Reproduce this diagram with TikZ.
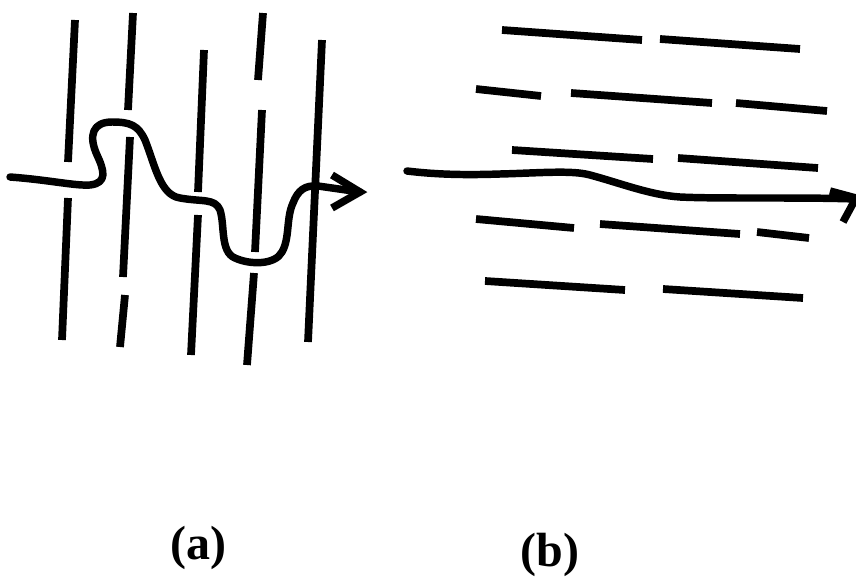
\documentclass[tikz,border=0pt]{standalone}
\usepackage{fontspec}
\setmainfont{Liberation Serif}

\tikzset{every picture/.style={line width=0.75pt}}

\begin{document}
\begin{tikzpicture}[x=0.75pt,y=0.75pt,yscale=-1,xscale=1,
  bar/.style={line width=5.8pt},
  path/.style={line width=5.6pt,line cap=round,line join=round},
  caption/.style={inner sep=0.75pt,font=\fontsize{36}{40}\selectfont\bfseries}]
\useasboundingbox (0,0) rectangle (856,582);

%Straight Lines (a) wall 1
\draw [bar] (75,20) -- (68,162) ;
\draw [bar] (68,198) -- (62,340) ;
%Straight Lines (a) wall 2
\draw [bar] (133,13) -- (128,110) ;
\draw [bar] (130,137) -- (123,277) ;
\draw [bar] (125,295) -- (120,347) ;
%Straight Lines (a) wall 3
\draw [bar] (204,50) -- (198,192) ;
\draw [bar] (198,215) -- (191,355) ;
%Straight Lines (a) wall 4
\draw [bar] (263,13) -- (258,80) ;
\draw [bar] (262,110) -- (255,252) ;
\draw [bar] (254,273) -- (247,365) ;
%Straight Lines (a) wall 5
\draw [bar] (322,40) -- (308,342) ;

%Curve (a) winding path
\draw [path] (10,177) .. controls (50,180) and (75,186) .. (90,185)
  .. controls (108,183) and (104,170) .. (97,155)
  .. controls (88,135) and (93,122) .. (112,122)
  .. controls (130,122) and (138,125) .. (145,140)
  .. controls (155,165) and (160,195) .. (180,198)
  .. controls (202,202) and (215,198) .. (220,210)
  .. controls (225,225) and (220,252) .. (235,258)
  .. controls (250,265) and (275,265) .. (282,252)
  .. controls (290,238) and (286,218) .. (293,203)
  .. controls (298,190) and (305,185) .. (318,186)
  -- (360,192) ;
\draw [path,line cap=butt,line join=miter] (332,175) -- (360,192) -- (332,208) ;

%Straight Lines (b) row 1
\draw [bar] (502,30) -- (642,40) ;
\draw [bar] (660,39) -- (800,49) ;
%Straight Lines (b) row 2
\draw [bar] (476,89) -- (541,96) ;
\draw [bar] (571,93) -- (712,103) ;
\draw [bar] (736,103) -- (827,111) ;
%Straight Lines (b) row 3
\draw [bar] (512,150) -- (653,159) ;
\draw [bar] (678,158) -- (818,168) ;
%Straight Lines (b) row 4
\draw [bar] (476,219) -- (574,228) ;
\draw [bar] (600,224) -- (740,234) ;
\draw [bar] (757,232) -- (809,238) ;
%Straight Lines (b) row 5
\draw [bar] (485,281) -- (625,290) ;
\draw [bar] (663,289) -- (803,298) ;

%Curve (b) straight-through path
\draw [path] (407,171) .. controls (440,175) and (470,175) .. (500,174)
  .. controls (540,173) and (572,170) .. (590,175)
  .. controls (620,183) and (650,195) .. (680,197)
  .. controls (720,199) and (800,197) .. (855,199) ;
\draw [path,line cap=butt,line join=miter] (830,191) -- (856,198) -- (843,222) ;

% Text Node
\node [caption] (capa) at (198,548) {(a)};
% Text Node
\node [caption] (capb) at (550,555) {(b)};

\end{tikzpicture}
\end{document}
